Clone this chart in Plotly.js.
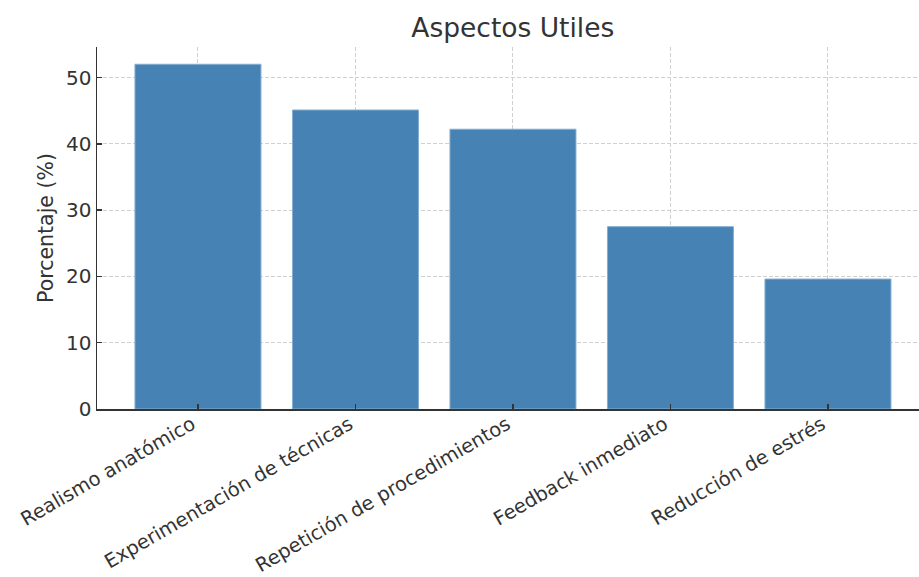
<!DOCTYPE html>
<html>
<head>
<meta charset="utf-8">
<script src="https://cdn.plot.ly/plotly-3.0.1.min.js"></script>
<style>
  html, body { margin: 0; padding: 0; background: #fff; }
  #chart { width: 919px; height: 577px; }
</style>
</head>
<body>
<div id="chart"></div>
<script>
// Survey results: share of respondents naming each aspect as useful
const categories = [
  "Realismo anatómico",
  "Experimentación de técnicas",
  "Repetición de procedimientos",
  "Feedback inmediato",
  "Reducción de estrés"
];
const percentages = [52.0, 45.1, 42.2, 27.5, 19.6];
const yTicks = [0, 10, 20, 30, 40, 50];

const xIdx = categories.map((_, i) => i);
const textColor = "#333333";
const gridColor = "#d0d0d0";

const trace = {
  type: "bar",
  x: xIdx,
  y: percentages,
  width: 0.8,
  marker: {
    color: "#4682B4",
    line: { color: "#85aed1", width: 1 }
  },
  hoverinfo: "skip"
};

const axisCommon = {
  tickfont: { size: 20, color: textColor },
  ticks: "inside",
  ticklen: 5,
  tickwidth: 1.5,
  tickcolor: textColor,
  showline: true,
  linecolor: textColor,
  linewidth: 1.5,
  showgrid: true,
  gridcolor: gridColor,
  griddash: "4px,2px",
  gridwidth: 1,
  zeroline: false
};

const layout = {
  width: 919,
  height: 577,
  margin: { l: 97, r: 0, t: 47, b: 168 },
  paper_bgcolor: "#ffffff",
  plot_bgcolor: "#ffffff",
  showlegend: false,
  font: { family: "DejaVu Sans, sans-serif", color: textColor },
  title: {
    text: "Aspectos Utiles",
    font: { size: 26.5, color: textColor },
    x: 0.558,
    xanchor: "center",
    y: 0.952,
    yanchor: "middle"
  },
  xaxis: Object.assign({}, axisCommon, {
    range: [-0.641, 4.578],
    tickmode: "array",
    tickvals: xIdx,
    ticktext: categories,
    tickangle: -30,
    tickfont: { size: 19.5, color: textColor },
    ticklabelstandoff: -5,
    ticklabelshift: -6
  }),
  yaxis: Object.assign({}, axisCommon, {
    range: [0, 54.6],
    tickmode: "array",
    tickvals: yTicks,
    ticktext: yTicks.map(String),
    title: {
      text: "Porcentaje (%)",
      font: { size: 20.5, color: textColor },
      standoff: 7
    }
  })
};

Plotly.newPlot("chart", [trace], layout, { displayModeBar: false, staticPlot: true });
</script>
</body>
</html>
